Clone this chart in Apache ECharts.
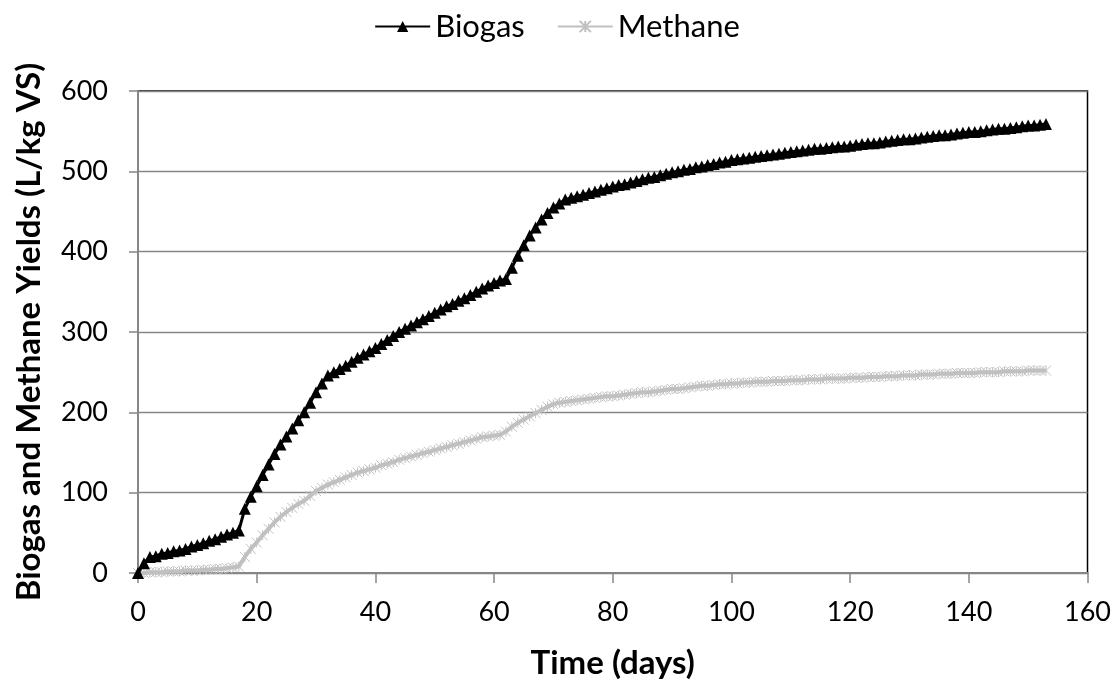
<!DOCTYPE html>
<html><head><meta charset="utf-8">
<script src="https://cdn.jsdelivr.net/npm/echarts@6/dist/echarts.min.js"></script>
<style>html,body{margin:0;padding:0;background:#fff}#c{width:1114px;height:685px}</style>
</head><body><div id="c"></div>
<script>
const days = Array.from({length:154},(_,i)=>i);
const biogas = [0,12,20,21,24,25,27,28,30,33,35,37,40,42,45,48,50,53,80,95,108,122,135,148,160,170,180,190,200,212,225,236,246,250,254,258,263,268,272,276,280,285,290,295,300,304,308,312,316,320,324,328,332,335,339,342,346,350,354,358,361,364,366,380,395,408,420,430,440,448,455,460,465,467,469,471,473,475,477,479,481,483,484,486,488,490,492,493,495,497,499,500,502,503,505,506,508,509,511,512,514,515,516,517,518,519,520,521,522,523,524,525,526,527,528,528,529,530,531,531,532,533,534,535,535,536,537,538,539,540,540,541,542,543,544,545,545,546,547,548,549,549,550,551,552,553,553,554,555,556,557,557,558,559];
const methane = [0,0,1,1,1,2,2,2,3,3,3,4,4,5,5,6,7,8,20,30,38,47,55,63,70,76,81,86,90,96,102,106,110,113,116,119,122,125,127,129,131,134,136,138,141,143,145,147,149,151,153,155,157,159,161,163,165,167,169,170,171,172,176,182,187,191,195,199,203,207,210,212,213,214,215,216,217,218,219,220,220,221,222,223,224,225,225,226,227,228,229,229,230,231,232,233,233,234,235,235,236,236,237,237,238,238,238,239,239,239,240,240,240,241,241,241,242,242,242,242,243,243,243,244,244,244,245,245,245,246,246,246,247,247,247,248,248,248,249,249,249,249,250,250,250,250,251,251,251,251,252,252,252,252];
const seriesNames = ['Biogas','Methane'];
const xTitle = 'Time (days)';
const yTitle = 'Biogas and Methane Yields (L/kg VS)';

const FONT = 'Lato';
const AXIS_GRAY = '#868686';
const chart = echarts.init(document.getElementById('c'));
chart.setOption({
  animation:false,
  textStyle:{fontFamily:FONT},
  legend:{
    top:6, left:'center', itemGap:32, itemWidth:55, itemHeight:14,
    textStyle:{fontSize:31, color:'#000', fontFamily:FONT},
    data:seriesNames
  },
  grid:{left:138, right:25, top:91, bottom:111, show:true, borderColor:'#000', borderWidth:1.5},
  xAxis:{
    type:'value', min:0, max:160, interval:20,
    name:xTitle, nameLocation:'middle', nameGap:74,
    nameTextStyle:{fontSize:33, fontWeight:'bold', color:'#000', fontFamily:FONT},
    axisLine:{show:true, lineStyle:{color:AXIS_GRAY, width:2}},
    axisTick:{show:true, length:10, lineStyle:{color:AXIS_GRAY, width:1.5}},
    axisLabel:{fontSize:27, color:'#000', margin:26, fontFamily:FONT},
    splitLine:{show:false}
  },
  yAxis:{
    type:'value', min:0, max:600, interval:100,
    name:yTitle, nameLocation:'middle', nameGap:92, nameRotate:90,
    nameTextStyle:{fontSize:33, fontWeight:'bold', color:'#000', fontFamily:FONT},
    axisLine:{show:true, lineStyle:{color:AXIS_GRAY, width:2}},
    axisTick:{show:true, length:9, lineStyle:{color:AXIS_GRAY, width:1.5}},
    axisLabel:{fontSize:27, color:'#000', margin:30, fontFamily:FONT},
    splitLine:{show:true, lineStyle:{color:AXIS_GRAY, width:1.3}}
  },
  series:[
    {
      name:'Biogas', type:'line', data:days.map((d,i)=>[d,biogas[i]]),
      symbol:'triangle', symbolSize:12, showAllSymbol:true,
      lineStyle:{color:'#000', width:3}, itemStyle:{color:'#000'}, z:3
    },
    {
      name:'Methane', type:'line', data:days.map((d,i)=>[d,methane[i]]),
      symbol:'path://M0,0 L10,10 M10,0 L0,10 M5,0 L5,10', symbolSize:10, showAllSymbol:true,
      lineStyle:{color:'#c0c0c0', width:4},
      itemStyle:{color:'#c0c0c0', borderColor:'#c0c0c0', borderWidth:1}, z:2
    }
  ]
});
</script></body></html>
